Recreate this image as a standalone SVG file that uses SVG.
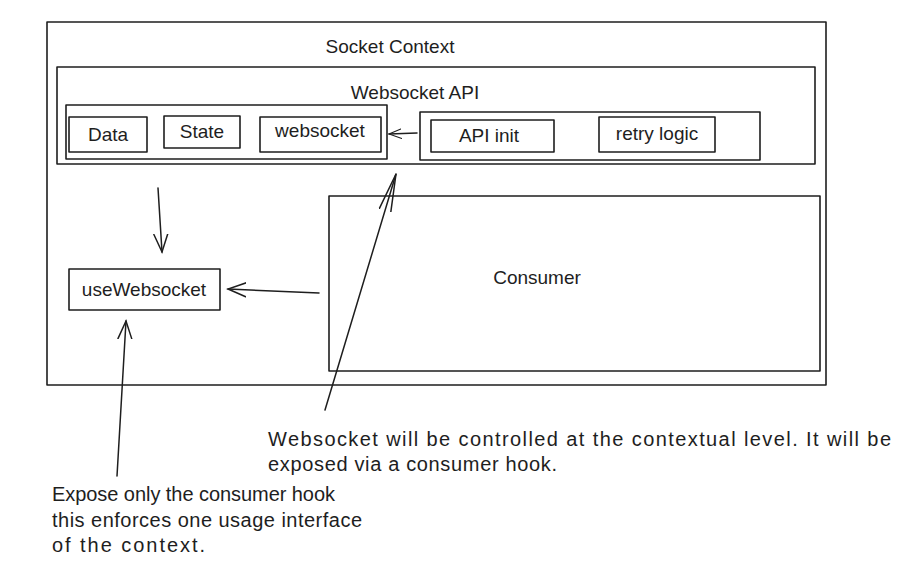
<svg xmlns="http://www.w3.org/2000/svg" width="923" height="573" viewBox="0 0 923 573">
<defs>
<style>
.b{fill:none;stroke:#1e1e1e;stroke-width:1.6;stroke-linejoin:round}
.c{fill:none;stroke:#1e1e1e;stroke-width:1.5;stroke-linecap:round}
text{font-family:"Liberation Sans","Open Sans",sans-serif;fill:#1e1e1e}
.t{font-size:20px}
.n{font-size:19px;text-anchor:middle}
</style>
<marker id="ah" viewBox="0 0 20 20" refX="18" refY="10" markerWidth="20" markerHeight="20" markerUnits="userSpaceOnUse" orient="auto">
<polyline points="0,3 18,10 0,17" fill="none" stroke="#1e1e1e" stroke-width="1.5" stroke-linecap="round"/>
</marker>
<marker id="ahs" viewBox="0 0 20 20" refX="18" refY="10" markerWidth="14" markerHeight="14" markerUnits="userSpaceOnUse" orient="auto">
<polyline points="0,3 18,10 0,17" fill="none" stroke="#1e1e1e" stroke-width="1.5" stroke-linecap="round"/>
</marker>
<marker id="ahl" viewBox="0 0 40 40" refX="38" refY="20" markerWidth="40" markerHeight="40" markerUnits="userSpaceOnUse" orient="auto">
<polyline points="0,14 38,20 0,26" fill="none" stroke="#1e1e1e" stroke-width="1.5" stroke-linecap="round"/>
</marker>
</defs>
<rect width="923" height="573" fill="#ffffff"/>
<g id="socket-context">
<rect class="b" x="47" y="22" width="779" height="363"/>
<text class="n" x="390" y="53" font-size="20">Socket Context</text>
</g>
<g id="websocket-api">
<rect class="b" x="57" y="67" width="758" height="97"/>
<text class="n" x="415" y="99">Websocket API</text>
</g>
<g id="state-group">
<rect class="b" x="66" y="105" width="321" height="54"/>
</g>
<g id="data">
<rect class="b" x="69" y="117" width="78" height="35"/>
<text class="n" x="108" y="141">Data</text>
</g>
<g id="state">
<rect class="b" x="164" y="116" width="76" height="32"/>
<text class="n" x="202" y="138">State</text>
</g>
<g id="websocket">
<rect class="b" x="260" y="117" width="121" height="35"/>
<text class="n" x="320" y="137">websocket</text>
</g>
<g id="init-group">
<rect class="b" x="420" y="112" width="340" height="48"/>
</g>
<g id="api-init">
<rect class="b" x="431" y="120" width="123" height="32"/>
<text class="n" x="489" y="142">API init</text>
</g>
<g id="retry-logic">
<rect class="b" x="599" y="117" width="116" height="35"/>
<text class="n" x="657" y="140">retry logic</text>
</g>
<g id="consumer">
<rect class="b" x="329" y="196" width="491" height="175"/>
<text class="n" x="537" y="284">Consumer</text>
</g>
<g id="use-websocket">
<rect class="b" x="69" y="269" width="151" height="41"/>
<text class="n" x="144" y="296">useWebsocket</text>
</g>
<g id="connectors">
<line class="c" x1="417" y1="133" x2="389" y2="134" marker-end="url(#ahs)"/>
<line class="c" x1="158" y1="188" x2="162" y2="252" marker-end="url(#ah)"/>
<line class="c" x1="319" y1="293" x2="228" y2="289" marker-end="url(#ah)"/>
<line class="c" x1="117" y1="476" x2="126" y2="321" marker-end="url(#ah)"/>
<line class="c" x1="325" y1="410" x2="396" y2="174" marker-end="url(#ahl)"/>
</g>
<g id="notes">
<text class="t" x="268" y="446" textLength="623" lengthAdjust="spacing">Websocket will be controlled at the contextual level. It will be</text>
<text class="t" x="268" y="471" textLength="289" lengthAdjust="spacing">exposed via a consumer hook.</text>
<text class="t" x="52" y="501" textLength="283" lengthAdjust="spacing">Expose only the consumer hook</text>
<text class="t" x="52" y="527" textLength="310" lengthAdjust="spacing">this enforces one usage interface</text>
<text class="t" x="52" y="552" textLength="153" lengthAdjust="spacing">of the context.</text>
</g>
</svg>
